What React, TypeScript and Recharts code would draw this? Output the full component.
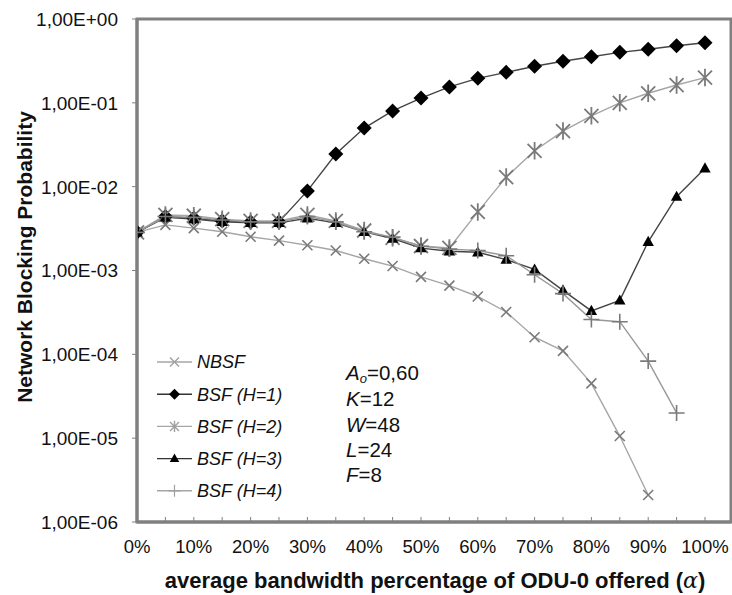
import React from "react";
import { LineChart, Line, XAxis, YAxis, ReferenceArea } from "recharts";

// Offered ODU-0 bandwidth share (alpha), in percent
const alpha = [0, 5, 10, 15, 20, 25, 30, 35, 40, 45, 50, 55, 60, 65, 70, 75, 80, 85, 90, 95, 100];

// Network blocking probability per scheme
const nbsf = [2.85e-3, 3.5e-3, 3.2e-3, 2.9e-3, 2.53e-3, 2.27e-3, 2.0e-3, 1.73e-3, 1.38e-3, 1.13e-3, 8.4e-4, 6.6e-4, 4.9e-4, 3.2e-4, 1.6e-4, 1.1e-4, 4.5e-5, 1.06e-5, 2.1e-6, null, null];
const bsfH1 = [2.85e-3, 4.4e-3, 4.2e-3, 3.9e-3, 3.8e-3, 3.8e-3, 8.9e-3, 2.45e-2, 5.0e-2, 8.0e-2, 0.114, 0.155, 0.196, 0.231, 0.273, 0.313, 0.355, 0.4, 0.435, 0.48, 0.52];
const bsfH2 = [2.85e-3, 4.6e-3, 4.5e-3, 4.1e-3, 3.9e-3, 3.9e-3, 4.6e-3, 3.9e-3, 3.0e-3, 2.45e-3, 1.96e-3, 1.86e-3, 5.0e-3, 0.013, 0.0268, 0.046, 0.07, 0.1, 0.13, 0.163, 0.2];
const bsfH3 = [2.85e-3, 4.3e-3, 4.1e-3, 3.8e-3, 3.7e-3, 3.7e-3, 4.2e-3, 3.7e-3, 2.9e-3, 2.4e-3, 1.85e-3, 1.7e-3, 1.65e-3, 1.35e-3, 1.03e-3, 5.8e-4, 3.3e-4, 4.4e-4, 2.2e-3, 7.6e-3, 0.0166];
const bsfH4 = [2.85e-3, 4.4e-3, 4.3e-3, 4.0e-3, 3.8e-3, 3.8e-3, 4.4e-3, 3.8e-3, 2.9e-3, 2.5e-3, 1.95e-3, 1.8e-3, 1.73e-3, 1.5e-3, 8.9e-4, 5.3e-4, 2.6e-4, 2.45e-4, 8.3e-5, 2.0e-5, null];

const yTicks = [1e-6, 1e-5, 1e-4, 1e-3, 1e-2, 1e-1, 1];
const legendNames = ["NBSF", "BSF (H=1)", "BSF (H=2)", "BSF (H=3)", "BSF (H=4)"];

const rows = alpha.map((a, i) => ({
  alpha: a,
  nbsf: nbsf[i],
  h1: bsfH1[i],
  h2: bsfH2[i],
  h3: bsfH3[i],
  h4: bsfH4[i],
}));

const FONT = "'Liberation Sans', Arial, sans-serif";
const AXIS_GRAY = "#808080";
const X_MAX = 104.58;

const fmtSci = (v: number) => {
  const e = Math.round(Math.log10(v));
  const s = e >= 0 ? "+" : "-";
  return `1,00E${s}${String(Math.abs(e)).padStart(2, "0")}`;
};

// ---- marker shapes ----
const XMark = ({ cx, cy, r = 5, color = "#7a7a7a", w = 1.6 }: any) => (
  <path d={`M${cx - r},${cy - r}L${cx + r},${cy + r}M${cx - r},${cy + r}L${cx + r},${cy - r}`} stroke={color} strokeWidth={w} fill="none" />
);
const Diamond = ({ cx, cy, r = 7.5, color = "#000" }: any) => (
  <polygon points={`${cx},${cy - r} ${cx + r},${cy} ${cx},${cy + r} ${cx - r},${cy}`} fill={color} />
);
const Asterisk = ({ cx, cy, r = 7, color = "#7a7a7a", w = 1.8 }: any) => (
  <path
    d={`M${cx - r},${cy - r}L${cx + r},${cy + r}M${cx - r},${cy + r}L${cx + r},${cy - r}M${cx},${cy - r * 1.25}L${cx},${cy + r * 1.25}`}
    stroke={color}
    strokeWidth={w}
    fill="none"
  />
);
const Triangle = ({ cx, cy, r = 6, color = "#000" }: any) => (
  <polygon points={`${cx},${cy - r} ${cx + r * 0.95},${cy + r * 0.7} ${cx - r * 0.95},${cy + r * 0.7}`} fill={color} />
);
const Plus = ({ cx, cy, r = 8, color = "#7a7a7a", w = 1.6 }: any) => (
  <path d={`M${cx - r},${cy}L${cx + r},${cy}M${cx},${cy - r}L${cx},${cy + r}`} stroke={color} strokeWidth={w} fill="none" />
);

const dotFor = (Shape: any, extra: any = {}) => (p: any) => {
  if (p.value == null || p.cx == null || p.cy == null || Number.isNaN(p.cy)) return <g key={`n-${p.index}`} />;
  return <Shape key={`d-${p.index}`} cx={p.cx} cy={p.cy} {...extra} />;
};

const XTick = (props: any) => {
  const { x, y, payload } = props;
  const v = payload.value;
  return (
    <g>
      <line x1={x} x2={x} y1={y} y2={y - 5} stroke={AXIS_GRAY} strokeWidth={1} />
      {v % 10 === 0 && (
        <text x={x} y={y + 31} textAnchor="middle" fontFamily={FONT} fontSize={18.5} fill="#111">
          {`${v}%`}
        </text>
      )}
    </g>
  );
};

const YTick = (props: any) => {
  const { x, y, payload } = props;
  return (
    <text x={x} y={y} dy="0.36em" textAnchor="end" fontFamily={FONT} fontSize={19} fill="#111">
      {fmtSci(payload.value)}
    </text>
  );
};

const legendItems = [
  { Shape: XMark, line: "#a6a6a6", props: { r: 4.5, color: "#a0a0a0", w: 1.4 } },
  { Shape: Diamond, line: "#333", props: { r: 5.5 } },
  { Shape: Asterisk, line: "#a6a6a6", props: { r: 4.5, color: "#a0a0a0", w: 1.4 } },
  { Shape: Triangle, line: "#333", props: { r: 5 } },
  { Shape: Plus, line: "#a6a6a6", props: { r: 6, color: "#a0a0a0", w: 1.2 } },
];

const Overlay = () => (
  <svg width={732} height={595} style={{ position: "absolute", left: 0, top: 0, pointerEvents: "none" }}>
    {legendItems.map((it, i) => {
      const y = 362 + i * 32.2;
      const S = it.Shape;
      return (
        <g key={legendNames[i]}>
          <line x1={157} x2={192} y1={y} y2={y} stroke={it.line} strokeWidth={1.4} />
          <S cx={174.5} cy={y} {...it.props} />
          <text x={197} y={y} dy="0.36em" fontFamily={FONT} fontSize={18} fontStyle="italic" fill="#111">
            {legendNames[i]}
          </text>
        </g>
      );
    })}
    <g fontFamily={FONT} fontSize={20.5} fill="#111">
      <text x={346} y={380}>
        <tspan fontStyle="italic">A</tspan>
        <tspan fontStyle="italic" fontSize={13} dy={3}>o</tspan>
        <tspan dy={-3}>=0,60</tspan>
      </text>
      <text x={346} y={406}>
        <tspan fontStyle="italic">K</tspan>=12
      </text>
      <text x={346} y={432}>
        <tspan fontStyle="italic">W</tspan>=48
      </text>
      <text x={346} y={457}>
        <tspan fontStyle="italic">L</tspan>=24
      </text>
      <text x={346} y={482}>
        <tspan fontStyle="italic">F</tspan>=8
      </text>
    </g>
    <text x={32} y={257} transform="rotate(-90 32 257)" textAnchor="middle" fontFamily={FONT} fontSize={21} fontWeight="bold" fill="#111">
      Network Blocking Probability
    </text>
    <text x={435} y={588} textAnchor="middle" fontFamily={FONT} fontSize={22} fontWeight="bold" fill="#111">
      average bandwidth percentage of ODU-0 offered (
      <tspan fontStyle="italic" fontFamily="'DejaVu Serif', serif" fontWeight="normal">α</tspan>)
    </text>
  </svg>
);

export default function App() {
  return (
    <div style={{ position: "absolute", left: 0, top: 0, width: 732, height: 595, background: "#fff" }}>
      <LineChart width={732} height={595} data={rows} margin={{ top: 19, right: 1, bottom: 0, left: 0 }}>
        <XAxis
          dataKey="alpha"
          type="number"
          domain={[0, X_MAX]}
          ticks={alpha}
          interval={0}
          tickSize={0}
          tickMargin={0}
          tickLine={false}
          height={73}
          axisLine={{ stroke: AXIS_GRAY, strokeWidth: 3 }}
          tick={<XTick />}
          allowDataOverflow
        />
        <YAxis
          type="number"
          scale="log"
          domain={[1e-6, 1]}
          ticks={yTicks}
          interval={0}
          width={137}
          tickSize={5}
          tickMargin={14}
          tickLine={{ stroke: AXIS_GRAY, strokeWidth: 1 }}
          axisLine={{ stroke: AXIS_GRAY, strokeWidth: 3 }}
          tick={<YTick />}
          allowDataOverflow
        />
        <ReferenceArea x1={0} x2={X_MAX} y1={1e-6} y2={1} fill="none" stroke={AXIS_GRAY} strokeWidth={3} ifOverflow="visible" />
        <Line dataKey="nbsf" stroke="#a6a6a6" strokeWidth={1.4} dot={dotFor(XMark)} isAnimationActive={false} />
        <Line dataKey="h1" stroke="#444" strokeWidth={1.4} dot={dotFor(Diamond)} isAnimationActive={false} />
        <Line dataKey="h2" stroke="#a6a6a6" strokeWidth={1.4} dot={dotFor(Asterisk)} isAnimationActive={false} />
        <Line dataKey="h3" stroke="#444" strokeWidth={1.4} dot={dotFor(Triangle)} isAnimationActive={false} />
        <Line dataKey="h4" stroke="#999" strokeWidth={1.4} dot={dotFor(Plus)} isAnimationActive={false} />
      </LineChart>
      <Overlay />
    </div>
  );
}
